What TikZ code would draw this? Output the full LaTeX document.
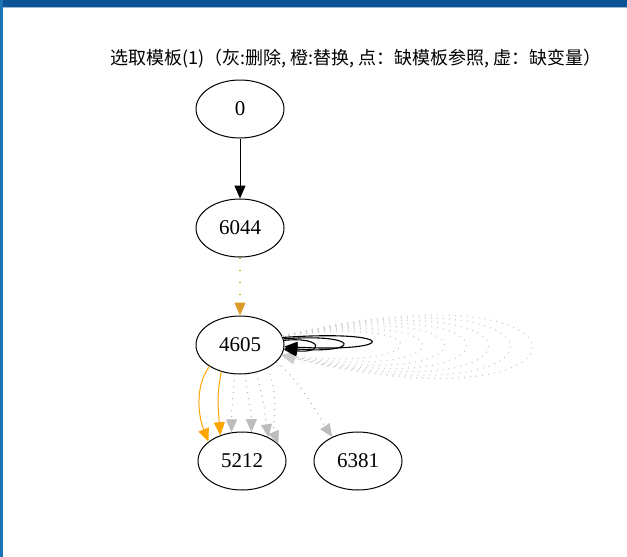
\documentclass[tikz,border=0pt]{standalone}
\usepackage{fontspec}
\setmainfont{Liberation Serif}
\newfontfamily\cjk{Noto Sans CJK SC}
\usetikzlibrary{shapes.geometric,arrows.meta}
\definecolor{frameblue}{HTML}{0D5496}
\definecolor{sideblue}{HTML}{1B72B5}
\definecolor{dotgray}{HTML}{BDBDBD}
\definecolor{orng}{HTML}{FFA500}
\begin{document}
\begin{tikzpicture}[x=1pt,y=-1pt,
  vertex/.style={ellipse,draw=black,line width=1pt,minimum width=88pt,minimum height=58pt,inner sep=0pt,font=\fontsize{21}{21}\selectfont},
  tipend/.style={-{Triangle[length=13pt,width=11pt]}},
  solidblack/.style={tipend,draw=black,line width=1pt},
  blackloop/.style={tipend,draw=black,line width=1.1pt},
  orangeedge/.style={tipend,draw=orng,line width=1pt},
  orangedot/.style={tipend,draw=orng!70!gray,line width=1.3pt,dash pattern=on 1pt off 11pt},
  grayedge/.style={tipend,draw=dotgray,line width=1.3pt,dash pattern=on 1pt off 5pt},
  grayloop/.style={tipend,draw=dotgray!75,line width=1.2pt,dash pattern=on 1pt off 5pt}]
\useasboundingbox (0,0) rectangle (627,557);
\fill[white] (0,0) rectangle (627,557);
\fill[frameblue] (0,0) rectangle (627,7);
\draw[frameblue!40,line width=0.8pt] (3,7.4) -- (627,7.4);
\fill[sideblue] (0,0) rectangle (3,557);

\node[font=\cjk\fontsize{18}{18}\selectfont] (title) at (356,59) {选取模板(1)（灰:删除, 橙:替换, 点：缺模板参照, 虚：缺变量）};

\node[vertex] (n0) at (240,109) {0};
\node[vertex] (n6044) at (240,228) {6044};
\node[vertex] (n4605) at (240,345) {4605};
\node[vertex] (n5212) at (242,461) {5212};
\node[vertex] (n6381) at (358,461) {6381};

% gray dotted self loops
\foreach \i in {6,5,...,0}{
  \pgfmathsetmacro{\L}{(117+22*\i)/0.75}
  \pgfmathsetmacro{\a}{20+10*\i}
  \pgfmathsetmacro{\b}{15+11*\i}
  \draw[grayloop] (n4605.12) .. controls +(\L,-\a) and +(\L,\b) .. (n4605.-14);
}
% black self loops
\draw[blackloop] (n4605.10) .. controls +(116,-8) and +(116,6) .. (n4605.-2);
\draw[blackloop] (n4605.8) .. controls +(78,-6) and +(78,6) .. (n4605.-4);
\draw[blackloop] (n4605.6) .. controls +(40,-4) and +(40,4) .. (n4605.-6);

\draw[solidblack] (n0) -- (n6044);
\draw[orangedot] (n6044) -- (n4605);

\draw[orangeedge] (n4605.-145) .. controls +(-15,20) and +(-10,-25) .. (n5212.150);
\draw[orangeedge] (n4605.-125) .. controls +(-5,25) and +(-2,-25) .. (n5212.130);

\draw[grayedge] (n4605.-100) .. controls +(-2,25) and +(0,-25) .. (n5212.110);
\draw[grayedge] (n4605.-80) .. controls +(2,25) and +(0,-25) .. (n5212.72);
\draw[grayedge] (n4605.-60) .. controls +(8,25) and +(-3,-20) .. (n5212.42);
\draw[grayedge] (n4605.-40) .. controls +(12,25) and +(-6,-15) .. (n5212.25);
\draw[grayedge] (n4605.-25) .. controls +(25,20) and +(-10,-15) .. (n6381.137);
\end{tikzpicture}
\end{document}
